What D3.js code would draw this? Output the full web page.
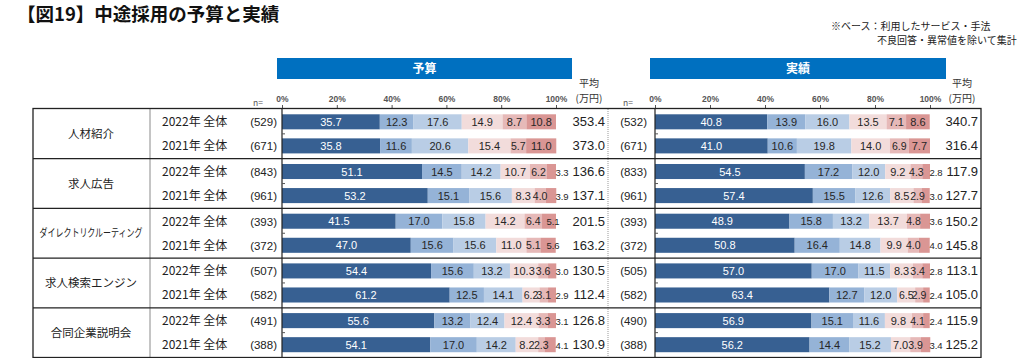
<!DOCTYPE html>
<html><head><meta charset="utf-8">
<script src="https://cdn.jsdelivr.net/npm/d3@7"></script>
<style>
html,body{margin:0;padding:0;background:#fff;}
svg{display:block;font-family:"Noto Sans CJK JP","Noto Sans",sans-serif;}
</style></head>
<body>
<svg id="chart" width="1024" height="358"></svg>
<script>
// ---- data ----
const categories = ["人材紹介","求人広告","ダイレクトリクルーティング","求人検索エンジン","合同企業説明会"];
const years = ["2022年 全体","2021年 全体"];
const segmentKeys = ["s1","s2","s3","s4","s5","s6"];
const ticks = [0,20,40,60,80,100];
const tickLabels = ["0%","20%","40%","60%","80%","100%"];

// budget (予算): rows in order 人材紹介2022, 2021, 求人広告2022, 2021, ...
const budgetValues = [
  [35.7,12.3,17.6,14.9,8.7,10.8],
  [35.8,11.6,20.6,15.4,5.7,11.0],
  [51.1,14.5,14.2,10.7,6.2,3.3],
  [53.2,15.1,15.6,8.3,4.0,3.9],
  [41.5,17.0,15.8,14.2,6.4,5.1],
  [47.0,15.6,15.6,11.0,5.1,5.6],
  [54.4,15.6,13.2,10.3,3.6,3.0],
  [61.2,12.5,14.1,6.2,3.1,2.9],
  [55.6,13.2,12.4,12.4,3.3,3.1],
  [54.1,17.0,14.2,8.2,2.3,4.1]
];
const budgetN = [529,671,843,961,393,372,507,582,491,388];
const budgetAvg = ["353.4","373.0","136.6","137.1","201.5","163.2","130.5","112.4","126.8","130.9"];

// actual (実績)
const actualValues = [
  [40.8,13.9,16.0,13.5,7.1,8.6],
  [41.0,10.6,19.8,14.0,6.9,7.7],
  [54.5,17.2,12.0,9.2,4.3,2.8],
  [57.4,15.5,12.6,8.5,2.9,3.0],
  [48.9,15.8,13.2,13.7,4.8,3.6],
  [50.8,16.4,14.8,9.9,4.0,4.0],
  [57.0,17.0,11.5,8.3,3.4,2.8],
  [63.4,12.7,12.0,6.5,2.9,2.4],
  [56.9,15.1,11.6,9.8,4.1,2.4],
  [56.2,14.4,15.2,7.0,3.9,3.4]
];
const actualN = [532,671,833,961,393,372,505,582,490,388];
const actualAvg = ["340.7","316.4","117.9","127.7","150.2","145.8","113.1","105.0","115.9","125.2"];

const colors = ["#376092","#95B3D7","#B9CDE5","#F2DCDB","#E6B9B8","#DA9694"];
const labelColors = ["#ffffff","#262626","#262626","#262626","#262626","#262626"];

// ---- build rows ----
function rows(values){
  return values.map((v,i)=>{
    const o = {cat: categories[Math.floor(i/2)], year: years[i%2], idx:i};
    segmentKeys.forEach((k,j)=>o[k]=v[j]);
    return o;
  });
}

const svg = d3.select("#chart");
const tableTop = 109, tableBottom = 357.5;
const yGroup = d3.scaleBand().domain(categories).range([tableTop, tableBottom]);
const yInner = d3.scaleBand().domain(years).range([0, yGroup.bandwidth()]).paddingInner(0.375).paddingOuter(0.22);
const rowY = d => yGroup(d.cat) + yInner(d.year);

const color = d3.scaleOrdinal().domain(segmentKeys).range(colors);
const stack = d3.stack().keys(segmentKeys);

// title
svg.append("text").attr("x",17).attr("y",21).attr("font-size",18.5).attr("font-weight","bold")
  .attr("fill","#111").text("【図19】中途採用の予算と実績");
svg.append("text").attr("x",831).attr("y",29.5).attr("font-size",10).attr("fill","#222").text("※ベース：利用したサービス・手法");
svg.append("text").attr("x",877).attr("y",44).attr("font-size",10).attr("fill","#222").text("不良回答・異常値を除いて集計");

// table frame
const gTable = svg.append("g");
gTable.append("line").attr("x1",150).attr("x2",150).attr("y1",tableTop).attr("y2",tableBottom)
  .attr("stroke","#8a8a8a").attr("stroke-width",1);
gTable.append("line").attr("x1",608).attr("x2",608).attr("y1",tableTop).attr("y2",tableBottom)
  .attr("stroke","#999").attr("stroke-width",1).attr("stroke-dasharray","1,1");
categories.slice(1).forEach(c=>{
  gTable.append("line").attr("x1",33).attr("x2",981).attr("y1",yGroup(c)).attr("y2",yGroup(c))
    .attr("stroke","#222").attr("stroke-width",1.3);
});

// category labels
categories.forEach(c=>{
  const t = svg.append("text").attr("x",91).attr("y",yGroup(c)+yGroup.bandwidth()/2+4)
    .attr("text-anchor","middle").attr("font-size",11.5).attr("fill","#222").text(c);
  if (c.length > 10) t.attr("font-size",11).attr("textLength",103).attr("lengthAdjust","spacingAndGlyphs");
});

function panel(values, nArr, avgArr, x0, x1, title, nX, avgX, showYear){
  const x = d3.scaleLinear().domain([0,100]).range([x0,x1]);
  const data = rows(values);
  const series = stack(data);
  const bw = yInner.bandwidth();

  // header box
  svg.append("rect").attr("x",x0-5).attr("y",58).attr("width",x1-x0+21).attr("height",21).attr("fill","#0070C0");
  svg.append("text").attr("x",x0-5+(x1-x0+21)/2).attr("y",73).attr("text-anchor","middle")
    .attr("font-size",12).attr("font-weight","bold").attr("fill","#fff").text(title);

  // top axis
  const ax = svg.append("g").attr("transform",`translate(0,108)`)
    .call(d3.axisTop(x).tickValues(ticks).tickFormat((d,i)=>tickLabels[i]).tickSize(3).tickPadding(3));
  ax.select(".domain").remove();
  ax.selectAll("line").attr("stroke","#555");
  ax.selectAll("text").attr("font-size",8.5).attr("fill","#555").attr("font-family","'Liberation Sans',Arial,sans-serif").attr("font-weight","bold");

  svg.append("text").attr("x",nX-19).attr("y",106).attr("text-anchor","middle").attr("font-size",8.5).attr("fill","#555").text("n=");
  svg.append("text").attr("x",avgX-16).attr("y",87).attr("text-anchor","middle").attr("font-size",10).attr("fill","#333").text("平均");
  svg.append("text").attr("x",avgX-16).attr("y",102).attr("text-anchor","middle").attr("font-size",10).attr("fill","#333").text("(万円)");

  // bars
  const g = svg.append("g");
  g.selectAll("g.s").data(series).join("g").attr("class","s").attr("fill",d=>color(d.key))
    .selectAll("rect").data(d=>d).join("rect")
      .attr("x",d=>x(d[0])).attr("width",d=>Math.max(0,x(d[1])-x(d[0])))
      .attr("y",d=>rowY(d.data)).attr("height",bw);

  // labels
  series.forEach((s,si)=>{
    g.selectAll(null).data(s).join("text")
      .attr("x",d=>{
        const v = d[1]-d[0];
        if (si===5 && v<4.5) return x(100)+6;
        if (si===5 && v<6) return x(100)-3;
        return (x(d[0])+x(d[1]))/2;
      })
      .attr("y",d=>rowY(d.data)+bw/2+4)
      .attr("text-anchor","middle")
      .attr("font-family","'Liberation Sans',Arial,sans-serif")
      .attr("font-size",d=>{const v=d[1]-d[0]; return (si===5 && v<6)?9.5:(v<7?10.5:11);})
      .attr("fill",labelColors[si])
      .text(d=>(d[1]-d[0]).toFixed(1));
  });

  svg.append("line").attr("x1",x0).attr("x2",x0).attr("y1",108).attr("y2",tableBottom).attr("stroke","#222").attr("stroke-width",1.2);
  categories.forEach(c=>{
    const yy = yGroup(c)+yGroup.bandwidth()/2;
    svg.append("line").attr("x1",x0).attr("x2",x0+3).attr("y1",yy).attr("y2",yy).attr("stroke","#555");
  });

  data.forEach((d,i)=>{
    const cy = rowY(d)+bw/2+4.5;
    svg.append("text").attr("x",nX).attr("y",cy).attr("text-anchor","end").attr("font-size",11.5)
      .attr("font-family","'Liberation Sans',Arial,sans-serif").attr("fill","#222").text(`(${nArr[i]})`);
    svg.append("text").attr("x",avgX).attr("y",cy).attr("text-anchor","end").attr("font-size",13)
      .attr("font-family","'Liberation Sans',Arial,sans-serif").attr("fill","#222").text(avgArr[i]);
    if (showYear){
      svg.append("text").attr("x",162).attr("y",cy).attr("font-size",12).attr("fill","#222").text(d.year);
    }
  });
}

panel(budgetValues, budgetN, budgetAvg, 282, 556, "予算", 277, 605, true);
panel(actualValues, actualN, actualAvg, 655, 930, "実績", 647, 978, false);

svg.append("rect").attr("x",33).attr("y",108.5).attr("width",948).attr("height",tableBottom-108.5)
  .attr("fill","none").attr("stroke","#222").attr("stroke-width",1.3);
</script>
</body></html>
